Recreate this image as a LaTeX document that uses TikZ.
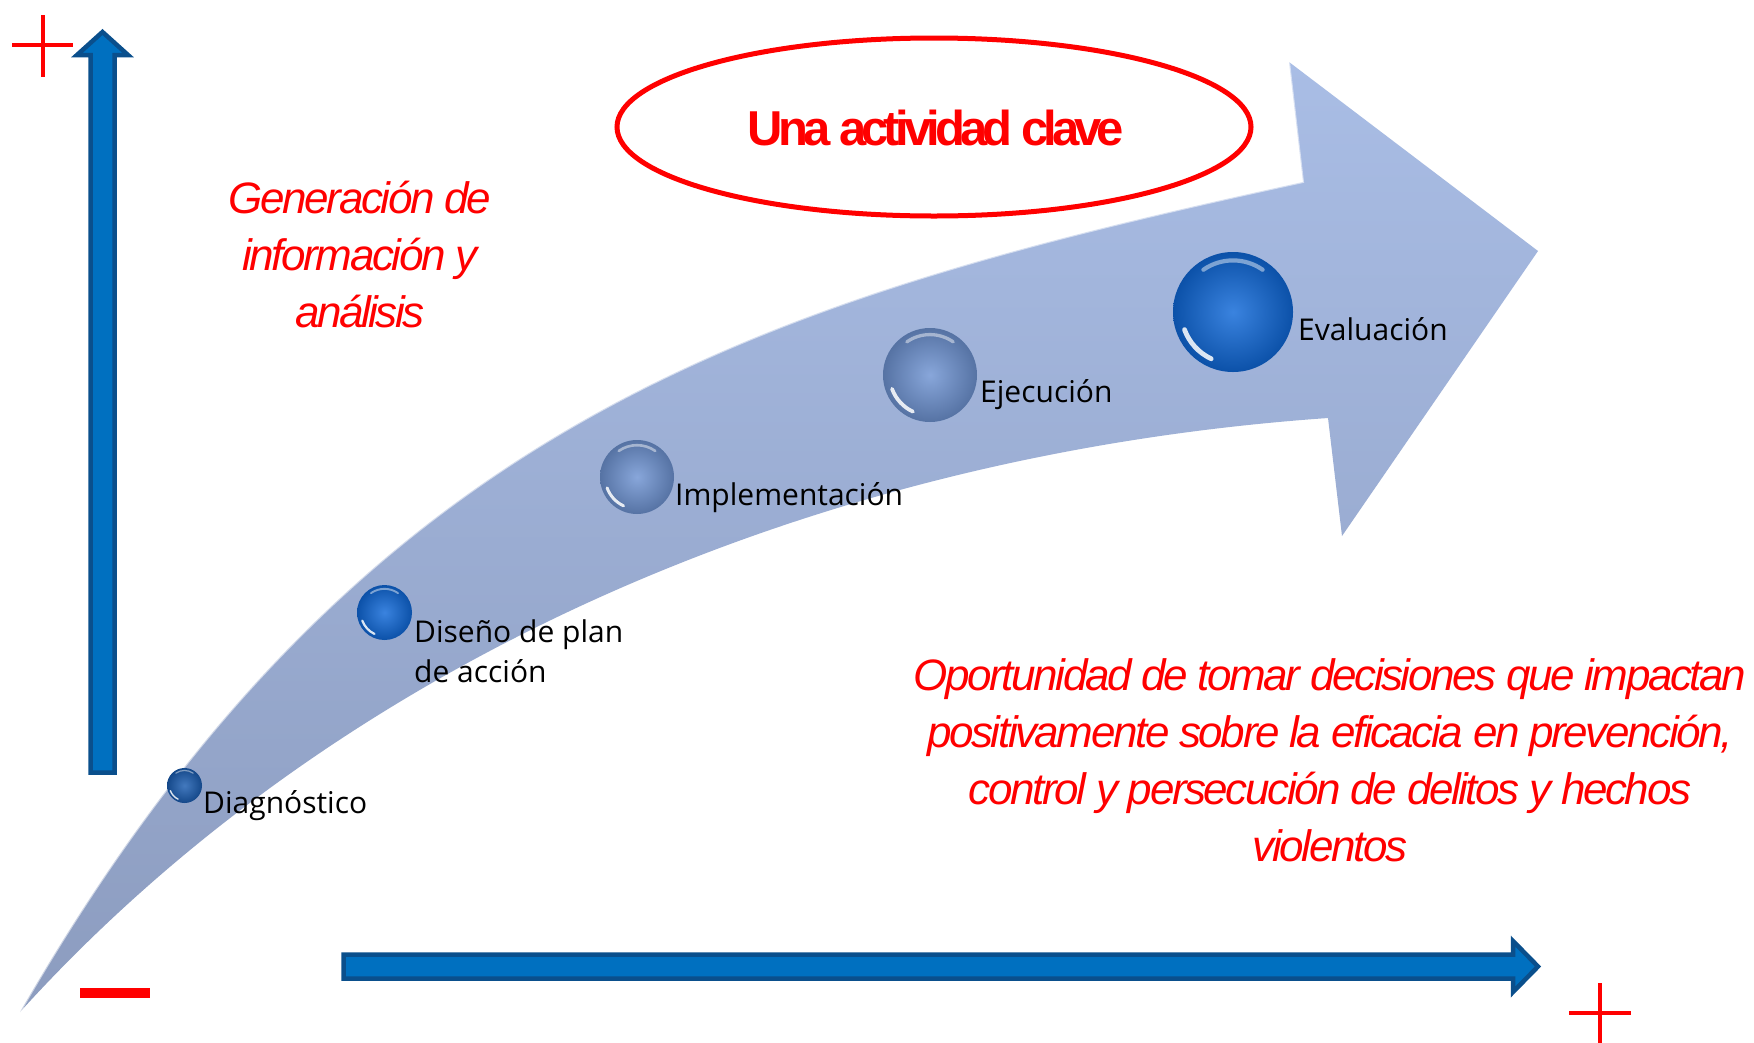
\documentclass[tikz,border=0pt]{standalone}
\usepackage{fontspec}
\newfontfamily\redfam[LetterSpace=-5.5]{Liberation Sans}
\newfontfamily\keyfam[LetterSpace=-10]{Liberation Sans}
\newfontfamily\labfam{Open Sans}
\definecolor{markred}{HTML}{FF0000}
\definecolor{arrowblue}{HTML}{0070C0}
\definecolor{arrowedge}{HTML}{0A4F8C}
\definecolor{bandtop}{HTML}{A9BDE5}
\definecolor{bandbot}{HTML}{8C9CBF}
\definecolor{sphdark}{HTML}{1A5CB0}
\definecolor{sphbright}{HTML}{0F68D8}
\definecolor{sphlight}{HTML}{6E93D2}
\newcommand{\mysphere}[5]{%
  \node[sphereball, minimum size={2*#4pt}, inner color=#5!82!white, outer color=#5!78!black] (#1) at (#2,#3) {};
  \draw[white, opacity=.45, line width={0.07*#4pt}, line cap=round]
    ([shift={(55:{0.86*#4pt})}]#1.center) arc[start angle=55, end angle=125, radius={0.86*#4pt}];
  \draw[white, opacity=.85, line width={0.08*#4pt}, line cap=round]
    ([shift={(200:{0.86*#4pt})}]#1.center) arc[start angle=200, end angle=245, radius={0.86*#4pt}];
}
\begin{document}
\begin{tikzpicture}[x=1pt, y=-1pt,
  redmark/.style={draw=markred, line width=4.5pt},
  blockarrow/.style={draw=arrowedge, fill=arrowblue, line width=4.5pt, line join=miter},
  lab/.style={font=\labfam\fontsize{30}{40}\selectfont, inner sep=0pt, anchor=base west, align=left, text=black},
  redtxt/.style={font=\redfam\itshape\fontsize{44}{57}\selectfont, text=markred, inner sep=0pt, align=center, anchor=base},
  keytxt/.style={font=\keyfam\bfseries\fontsize{49}{55}\selectfont, text=markred, inner sep=0pt, anchor=base},
  sphereball/.style={circle, inner sep=0pt, draw=none}]
\useasboundingbox (0,0) rectangle (1754,1042);
\fill[white] (0,0) rectangle (1754,1042);

% big curved arrow
\shade[top color=bandtop, bottom color=bandbot]
  (20,1012) .. controls (360,420) and (760,300) .. (1303,182)
  -- (1289,62) -- (1538,251) -- (1342,536) -- (1328,418)
  .. controls (800,455) and (330,670) .. (20,1012) -- cycle;
\draw[white, opacity=.55, line width=2pt]
  (20,1012) .. controls (360,420) and (760,300) .. (1303,182) -- (1289,62);

% axes arrows
\draw[blockarrow] (90.5,772.5) -- (90.5,55) -- (77,55) -- (102.5,32) -- (128,55) -- (114.5,55) -- (114.5,772.5) -- cycle;
\draw[blockarrow] (343.5,954.5) -- (1513,954.5) -- (1513,941) -- (1538,966.5) -- (1513,992) -- (1513,978.5) -- (343.5,978.5) -- cycle;

% plus / minus marks
\draw[redmark] (12,45) -- (73,45);
\draw[redmark] (43,15) -- (43,77);
\fill[markred] (80,988) rectangle (150,998);
\draw[redmark] (1569,1013) -- (1631,1013);
\draw[redmark] (1600,983) -- (1600,1046);

% ellipse
\draw[markred, line width=5pt] (934,127) ellipse (317pt and 89pt);
\node[keytxt] (key) at (936,145) {Una actividad clave};

% spheres
\mysphere{s1}{184.5}{785.5}{17.5}{sphdark}
\mysphere{s2}{384.5}{612.5}{27.5}{sphbright}
\mysphere{s3}{637}{477}{37}{sphlight}
\mysphere{s4}{930}{375}{47}{sphlight}
\mysphere{s5}{1233}{312}{60}{sphbright}

% labels
\node[lab] (l1) at (203,813) {Diagnóstico};
\node[lab] (l2) at (414,682) {Diseño de plan\\de acción};
\node[lab] (l3) at (675,505) {Implementación};
\node[lab] (l4) at (980,402) {Ejecución};
\node[lab] (l5) at (1298,340) {Evaluación};

% red texts
\node[redtxt] (gen) at (360,327) {Generación de\\información y\\análisis};
\node[redtxt] (opp) at (1330,861) {Oportunidad de tomar decisiones que impactan\\positivamente sobre la eficacia en prevención,\\control y persecución de delitos y hechos\\violentos};
\end{tikzpicture}
\end{document}
